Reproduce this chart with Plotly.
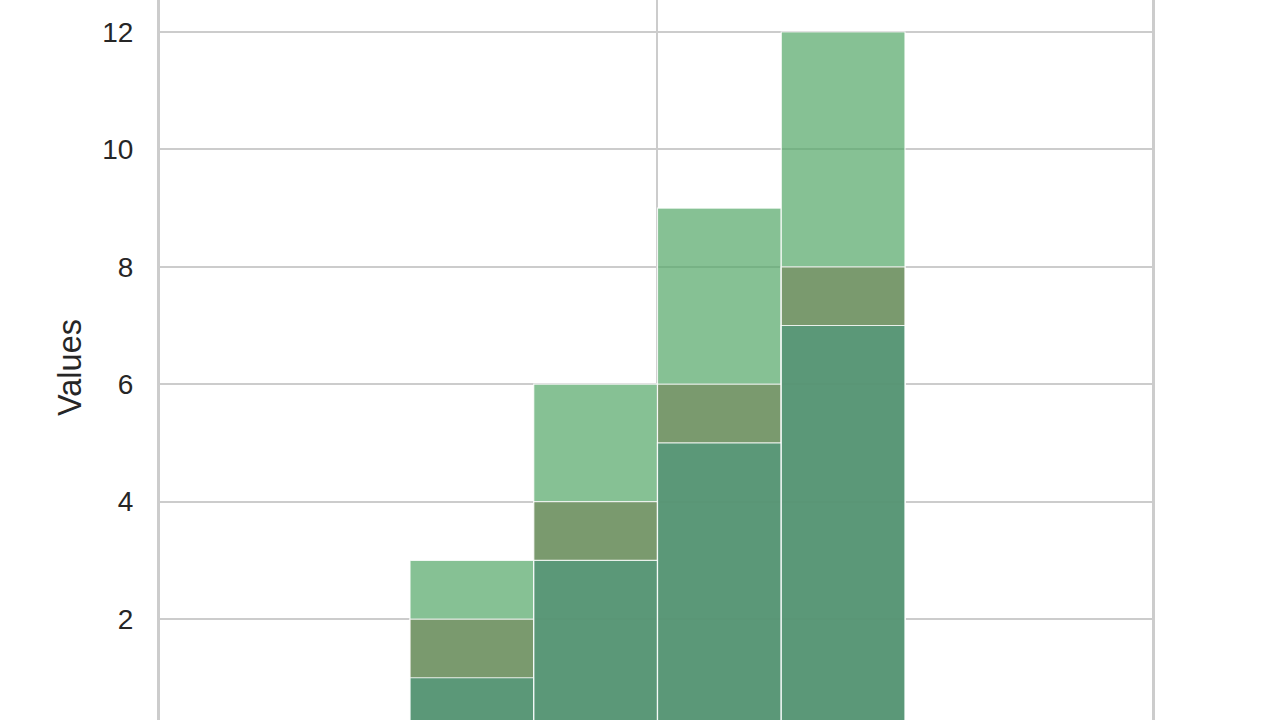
import plotly.graph_objects as go

# Data (bins of width 1, left edges)
bin_left = [2, 3, 4, 5]
series_a = [3, 6, 9, 12]   # tallest, light green
series_b = [2, 4, 6, 8]    # middle, olive
series_c = [1, 3, 5, 7]    # shortest, teal green
series_names = ["A", "B", "C"]
series_colors = ["rgba(82,166,102,0.7)", "rgba(117,137,94,0.7)", "rgba(79,151,124,0.7)"]
y_tick_values = [2, 4, 6, 8, 10, 12]
x_grid_values = [4]

fig = go.Figure()
for name, vals, col in zip(series_names, [series_a, series_b, series_c], series_colors):
    fig.add_trace(go.Bar(
        x=bin_left, y=vals, width=[1] * len(vals), offset=0,
        name=name, marker=dict(color=col, line=dict(color="rgba(255,255,255,0.85)", width=1.2)),
        showlegend=False, hoverinfo="skip",
    ))

fig.update_layout(
    width=1280, height=720,
    margin=dict(l=160, r=128, t=0, b=0),
    barmode="overlay",
    plot_bgcolor="white", paper_bgcolor="white",
    font=dict(family="Liberation Sans, Arial, sans-serif", color="#262626"),
)
fig.update_xaxes(
    range=[-0.02, 7.996], tickvals=x_grid_values, showticklabels=False,
    showgrid=True, gridcolor="#cccccc", gridwidth=2,
    zeroline=False, showline=False, automargin=False,
)
fig.update_yaxes(
    range=[0.28, 12.545], tickvals=y_tick_values,
    showgrid=True, gridcolor="#cccccc", gridwidth=2,
    zeroline=False, showline=True, mirror=True, linecolor="#cccccc", linewidth=3,
    ticks="", ticklabelstandoff=18,
    tickfont=dict(size=28, color="#262626"),
    automargin=False,
)
fig.add_annotation(
    text="Values", textangle=-90, showarrow=False,
    xref="paper", yref="paper", x=(70 - 160) / 992, y=1 - 368 / 720,
    xanchor="center", yanchor="middle",
    font=dict(size=32.5, color="#262626"),
)

fig.write_html(
    "out.html",
    config={"displayModeBar": False},
    post_script="document.body.style.margin='0';document.body.style.overflow='hidden';",
)
